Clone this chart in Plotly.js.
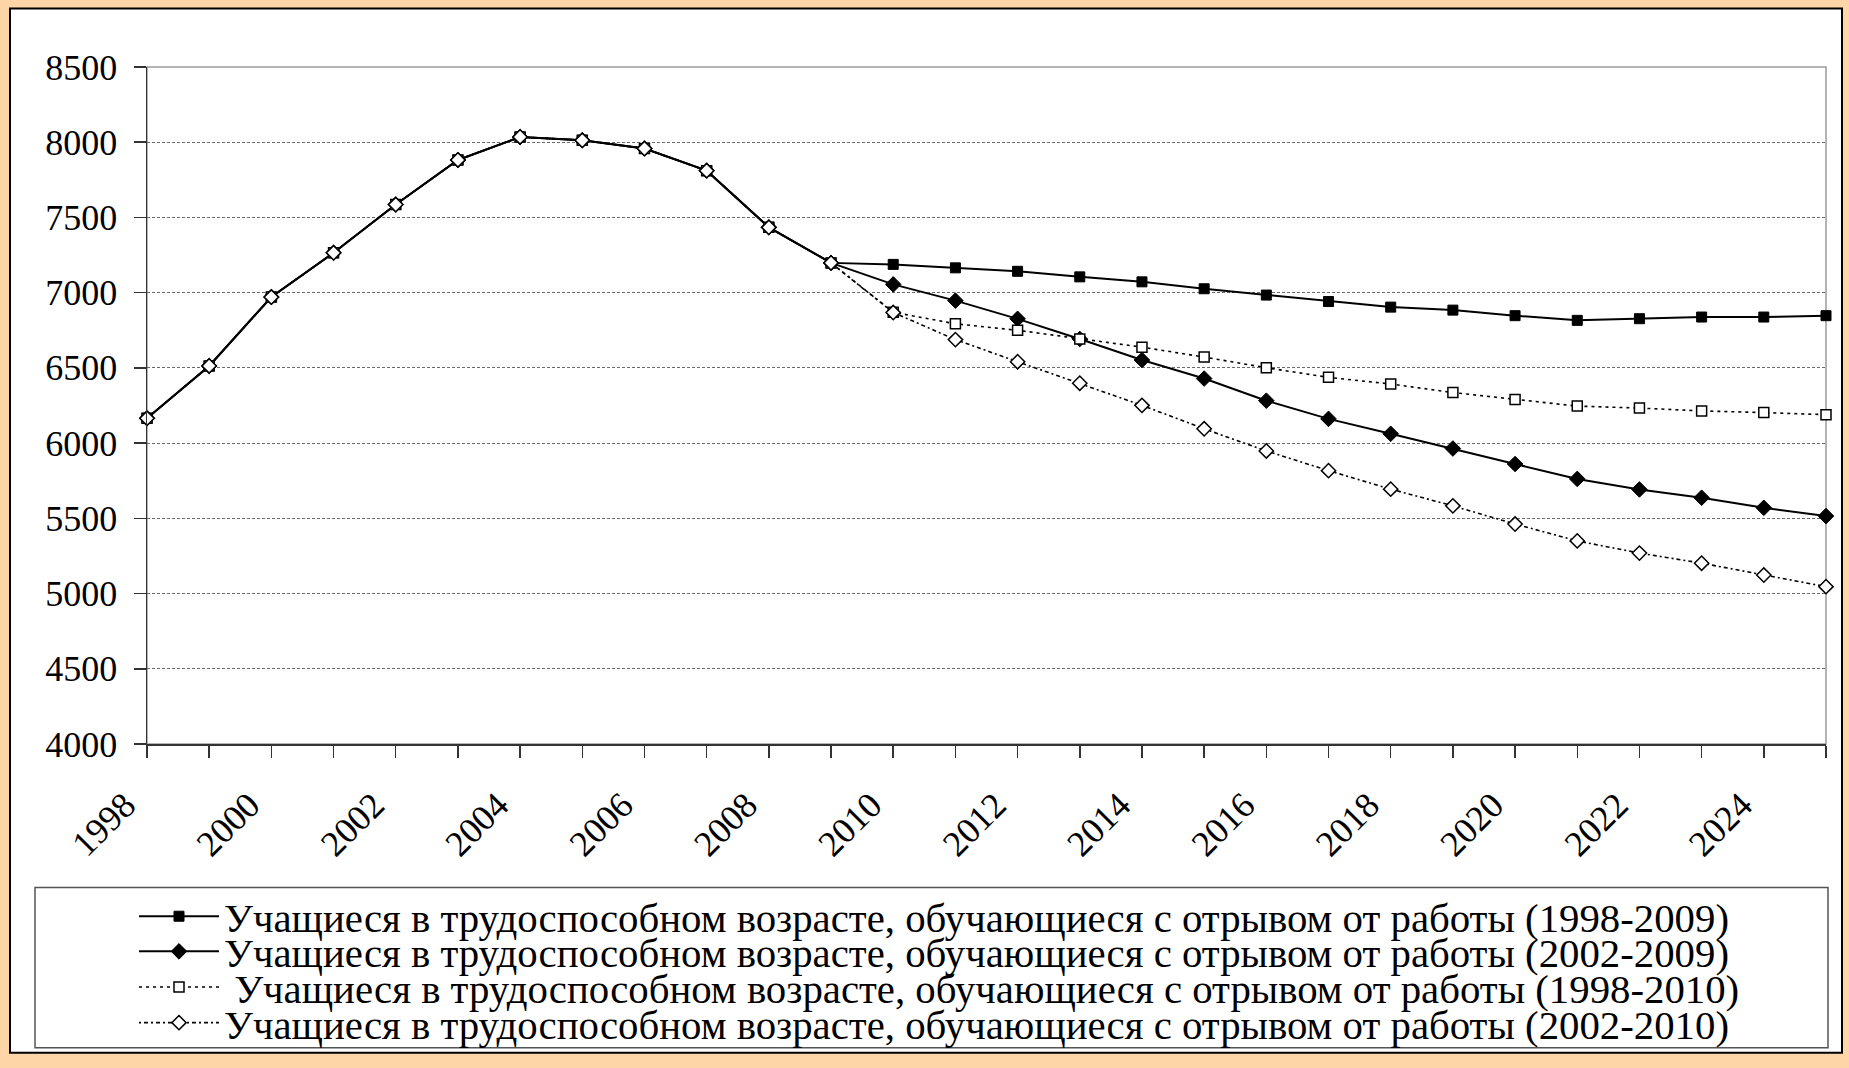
<!DOCTYPE html>
<html>
<head>
<meta charset="utf-8">
<script src="https://cdn.plot.ly/plotly-3.0.1.min.js"></script>
<style>
  html, body { margin: 0; padding: 0; background: #FDD5A6; }
  #chart { width: 1849px; height: 1068px; }
</style>
</head>
<body>
<div id="chart"></div>
<script>
// ---- data ----
const years = [1998, 1999, 2000, 2001, 2002, 2003, 2004, 2005, 2006, 2007, 2008, 2009, 2010, 2011,
               2012, 2013, 2014, 2015, 2016, 2017, 2018, 2019, 2020, 2021, 2022, 2023, 2024, 2025];
const tickLabels = ['1998', '', '2000', '', '2002', '', '2004', '', '2006', '', '2008', '', '2010', '',
                    '2012', '', '2014', '', '2016', '', '2018', '', '2020', '', '2022', '', '2024', ''];
const seriesNames = [
  'Учащиеся в трудоспособном возрасте, обучающиеся с отрывом от работы (1998-2009)',
  'Учащиеся в трудоспособном возрасте, обучающиеся с отрывом от работы (2002-2009)',
  '\u00a0Учащиеся в трудоспособном возрасте, обучающиеся с отрывом от работы (1998-2010)',
  'Учащиеся в трудоспособном возрасте, обучающиеся с отрывом от работы (2002-2010)'
];
const s1998_2009 = [6165, 6513, 6971, 7265, 7586, 7882, 8035, 8013, 7958, 7811, 7434, 7198, 7188, 7165,
                    7142, 7105, 7072, 7026, 6984, 6941, 6904, 6884, 6847, 6816, 6827, 6838, 6838, 6847];
const s2002_2009 = [6165, 6513, 6971, 7265, 7586, 7882, 8035, 8013, 7958, 7811, 7434, 7198, 7055, 6947,
                    6826, 6692, 6552, 6429, 6282, 6161, 6062, 5964, 5861, 5762, 5692, 5637, 5570, 5515];
const s1998_2010 = [6165, 6513, 6971, 7265, 7586, 7882, 8035, 8013, 7958, 7811, 7434, 7198, 6870, 6793,
                    6750, 6692, 6638, 6572, 6501, 6437, 6393, 6336, 6290, 6246, 6233, 6214, 6203, 6189];
const s2002_2010 = [6165, 6513, 6971, 7265, 7586, 7882, 8035, 8013, 7958, 7811, 7434, 7198, 6868, 6688,
                    6541, 6398, 6251, 6095, 5948, 5817, 5694, 5583, 5462, 5350, 5269, 5202, 5123, 5046];

// ---- layout geometry (pixels) ----
const W = 1849, H = 1068;
const M = { l: 147, r: 23, t: 67, b: 317 };
const PW = W - M.l - M.r, PH = H - M.t - M.b;
const px = x => (x - M.l) / PW;
const py = y => (H - M.b - y) / PH;

const FONT = 'Liberation Serif, Times New Roman, serif';

const traces = [
  { y: s1998_2009, name: seriesNames[0], legend: 'legend',
    line: { color: '#000', width: 2 },
    marker: { symbol: 'square', size: 10, color: '#000', line: { color: '#000', width: 1 } } },
  { y: s2002_2009, name: seriesNames[1], legend: 'legend2',
    line: { color: '#000', width: 2 },
    marker: { symbol: 'diamond', size: 12, color: '#000', line: { color: '#000', width: 1 } } },
  { y: s1998_2010, name: seriesNames[2], legend: 'legend3',
    line: { color: '#000', width: 1.6, dash: '3px,4px' },
    marker: { symbol: 'square', size: 10, color: '#fff', line: { color: '#000', width: 1.5 } } },
  { y: s2002_2010, name: seriesNames[3], legend: 'legend4',
    line: { color: '#000', width: 1.6, dash: '2px,3px,4px,3px' },
    marker: { symbol: 'diamond', size: 11, color: '#fff', line: { color: '#000', width: 1.5 } } }
].map(t => Object.assign({ x: years, type: 'scatter', mode: 'lines+markers', cliponaxis: false }, t));

const legendRowsY = [925.5, 961, 997, 1033];
function mkLegend(i) {
  return {
    x: px(134), xanchor: 'left', y: py(legendRowsY[i]), yanchor: 'middle',
    bgcolor: 'rgba(0,0,0,0)', borderwidth: 0, itemwidth: 80,
    font: { family: FONT, size: 40.8, color: '#000' }
  };
}

const layout = {
  width: W, height: H,
  margin: M,
  paper_bgcolor: '#FDD5A6',
  plot_bgcolor: 'rgba(0,0,0,0)',
  font: { family: FONT, color: '#000' },
  showlegend: true,
  legend: mkLegend(0), legend2: mkLegend(1), legend3: mkLegend(2), legend4: mkLegend(3),
  xaxis: {
    type: 'linear', range: [1998, 2025], fixedrange: true,
    tickmode: 'array', tickvals: years, ticktext: tickLabels,
    tickangle: -45, ticks: 'outside', ticklen: 12, tickwidth: 1.5, tickcolor: '#333',
    ticklabelstandoff: 12, ticklabelshift: -22,
    showline: true, linecolor: '#333', linewidth: 1.5,
    showgrid: false, zeroline: false,
    tickfont: { family: FONT, size: 36, color: '#000' }
  },
  yaxis: {
    range: [4000, 8500], dtick: 500, tick0: 4000, fixedrange: true,
    ticks: 'outside', ticklen: 12, tickwidth: 1.5, tickcolor: '#333',
    showline: true, linecolor: '#333', linewidth: 1.5,
    showgrid: true, gridcolor: '#6a6a6a', gridwidth: 1, griddash: '3px,2px',
    zeroline: false, ticklabelstandoff: 9,
    tickfont: { family: FONT, size: 36, color: '#000' }
  },
  shapes: [
    { type: 'rect', xref: 'paper', yref: 'paper', layer: 'below',
      x0: px(10), x1: px(1842), y0: py(1063), y1: py(8),
      fillcolor: '#fff', line: { color: '#000', width: 2 } },
    { type: 'rect', xref: 'paper', yref: 'paper', layer: 'below',
      x0: 0, x1: 1, y0: 0, y1: 1,
      fillcolor: 'rgba(0,0,0,0)', line: { color: '#9a9a9a', width: 1.5 } },
    { type: 'rect', xref: 'paper', yref: 'paper', layer: 'below',
      x0: px(35), x1: px(1828), y0: py(1058), y1: py(896),
      fillcolor: '#fff', line: { color: '#555', width: 1.5 } }
  ]
};

Plotly.newPlot('chart', traces, layout, { staticPlot: true, displayModeBar: false });
</script>
</body>
</html>
